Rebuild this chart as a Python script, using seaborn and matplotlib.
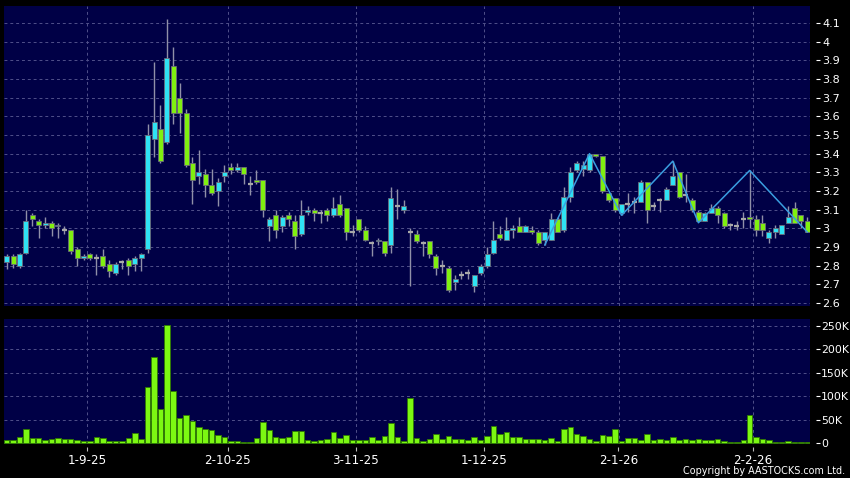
import matplotlib
matplotlib.use("Agg")
import matplotlib.pyplot as plt
import seaborn as sns
import numpy as np
import pandas as pd

# ---------------- data ----------------
opens = [2.82, 2.85, 2.80, 2.87, 3.07, 3.04, 3.02, 3.03, 3.01, 2.99,
         2.99, 2.89, 2.84, 2.86, 2.84, 2.85, 2.81, 2.76, 2.82, 2.83,
         2.81, 2.84, 2.89, 3.48, 3.53, 3.46, 3.87, 3.70, 3.62, 3.35,
         3.28, 3.29, 3.23, 3.20, 3.28, 3.33, 3.31, 3.33, 3.24, 3.26,
         3.26, 3.01, 3.07, 3.01, 3.07, 3.04, 2.97, 3.09, 3.10, 3.08,
         3.10, 3.07, 3.13, 3.11, 2.98, 3.05, 2.99, 2.92, 2.93, 2.93,
         2.91, 3.12, 3.10, 2.98, 2.97, 2.92, 2.93, 2.85, 2.80, 2.79,
         2.71, 2.75, 2.76, 2.69, 2.76, 2.80, 2.87, 2.97, 2.94, 2.99,
         3.01, 2.98, 2.99, 2.98, 2.94, 2.94, 3.05, 2.99, 3.17, 3.31,
         3.32, 3.31, 3.40, 3.39, 3.19, 3.16, 3.08, 3.13, 3.14, 3.14,
         3.25, 3.12, 3.15, 3.15, 3.23, 3.30, 3.18, 3.15, 3.09, 3.04,
         3.08, 3.11, 3.08, 3.02, 3.01, 3.05, 3.06, 3.05, 3.03, 2.95,
         2.98, 2.97, 3.03, 3.11, 3.07, 3.04]
highs = [2.86, 2.86, 2.87, 3.10, 3.08, 3.05, 3.06, 3.04, 3.03, 3.01,
         2.99, 2.90, 2.86, 2.87, 2.86, 2.89, 2.83, 2.82, 2.83, 2.84,
         2.85, 2.87, 3.56, 3.89, 3.66, 4.12, 3.97, 3.78, 3.64, 3.38,
         3.42, 3.32, 3.32, 3.27, 3.34, 3.35, 3.35, 3.33, 3.28, 3.31,
         3.26, 3.06, 3.10, 3.07, 3.09, 3.07, 3.15, 3.12, 3.11, 3.10,
         3.11, 3.17, 3.18, 3.11, 3.02, 3.05, 3.01, 2.93, 2.95, 2.93,
         3.22, 3.21, 3.15, 3.00, 2.99, 2.93, 2.93, 2.86, 2.83, 2.80,
         2.75, 2.77, 2.78, 2.75, 2.81, 2.90, 3.04, 3.01, 3.06, 3.02,
         3.06, 3.02, 3.01, 2.99, 2.98, 3.08, 3.06, 3.22, 3.33, 3.36,
         3.36, 3.40, 3.40, 3.39, 3.19, 3.16, 3.13, 3.19, 3.17, 3.26,
         3.25, 3.14, 3.16, 3.22, 3.36, 3.30, 3.29, 3.16, 3.10, 3.09,
         3.13, 3.12, 3.09, 3.03, 3.04, 3.09, 3.31, 3.07, 3.07, 2.99,
         3.02, 3.02, 3.12, 3.14, 3.07, 3.06]
lows = [2.78, 2.79, 2.79, 2.86, 3.01, 2.95, 3.00, 2.96, 2.95, 2.97,
        2.86, 2.80, 2.83, 2.83, 2.75, 2.79, 2.74, 2.75, 2.78, 2.75,
        2.77, 2.77, 2.87, 3.38, 3.35, 3.45, 3.56, 3.51, 3.33, 3.13,
        3.24, 3.17, 3.18, 3.12, 3.25, 3.29, 3.30, 3.24, 3.18, 3.24,
        3.06, 2.93, 2.95, 2.98, 3.01, 2.89, 2.96, 3.07, 3.04, 3.03,
        3.04, 3.06, 3.06, 2.94, 2.96, 2.98, 2.93, 2.85, 2.91, 2.85,
        2.87, 3.05, 3.08, 2.69, 2.92, 2.85, 2.84, 2.75, 2.76, 2.66,
        2.67, 2.73, 2.73, 2.66, 2.75, 2.79, 2.86, 2.94, 2.94, 2.95,
        2.98, 2.98, 2.97, 2.91, 2.91, 2.94, 2.98, 2.98, 3.14, 3.30,
        3.28, 3.30, 3.38, 3.19, 3.14, 3.09, 3.07, 3.09, 3.08, 3.14,
        3.03, 3.10, 3.09, 3.15, 3.23, 3.16, 3.14, 3.09, 3.04, 3.04,
        3.08, 3.03, 3.00, 2.99, 2.99, 3.00, 3.00, 2.96, 2.96, 2.92,
        2.95, 2.97, 3.03, 3.04, 3.00, 2.98]
closes = [2.85, 2.81, 2.86, 3.04, 3.05, 3.02, 3.03, 3.00, 3.02, 2.99,
          2.88, 2.84, 2.85, 2.84, 2.84, 2.80, 2.77, 2.81, 2.82, 2.80,
          2.84, 2.86, 3.50, 3.57, 3.36, 3.91, 3.62, 3.62, 3.34, 3.26,
          3.30, 3.23, 3.19, 3.25, 3.30, 3.31, 3.33, 3.29, 3.24, 3.25,
          3.10, 3.05, 2.99, 3.06, 3.05, 2.96, 3.07, 3.10, 3.08, 3.08,
          3.07, 3.11, 3.07, 2.98, 2.98, 2.99, 2.94, 2.92, 2.94, 2.87,
          3.16, 3.12, 3.12, 2.98, 2.93, 2.92, 2.86, 2.79, 2.80, 2.67,
          2.73, 2.75, 2.76, 2.75, 2.80, 2.86, 2.94, 2.95, 2.99, 3.00,
          2.98, 3.01, 2.98, 2.92, 2.98, 3.05, 2.98, 3.17, 3.30, 3.35,
          3.34, 3.40, 3.39, 3.20, 3.15, 3.10, 3.13, 3.13, 3.14, 3.25,
          3.10, 3.12, 3.15, 3.21, 3.28, 3.17, 3.18, 3.10, 3.04, 3.08,
          3.11, 3.07, 3.01, 3.02, 3.01, 3.05, 3.05, 2.99, 2.99, 2.98,
          3.00, 3.02, 3.06, 3.03, 3.04, 2.98]
volumes_k = [7, 7, 12, 31, 11, 10, 6, 8, 11, 8,
             9, 7, 5, 5, 13, 11, 5, 5, 5, 11,
             21, 9, 120, 184, 73, 252, 112, 54, 60, 48,
             34, 31, 27, 17, 14, 5, 5, 2, 2, 11,
             45, 27, 13, 11, 14, 25, 26, 6, 5, 6,
             8, 24, 10, 18, 7, 6, 7, 13, 7, 15,
             42, 13, 5, 97, 11, 5, 8, 19, 9, 16,
             8, 8, 6, 12, 6, 16, 37, 20, 24, 14,
             14, 9, 9, 8, 6, 11, 4, 31, 35, 19,
             16, 9, 4, 17, 16, 30, 4, 10, 10, 7,
             19, 6, 9, 6, 13, 6, 8, 6, 8, 6,
             6, 8, 4, 3, 3, 6, 59, 13, 8, 6,
             3, 3, 5, 2, 2, 2]

zigzag_idx = [84, 91, 96, 104, 108, 116, 125]
zigzag_val = [2.91, 3.40, 3.07, 3.36, 3.03, 3.31, 2.98]

date_labels = ["1-9-25", "2-10-25", "3-11-25", "1-12-25", "2-1-26", "2-2-26"]
date_pos = [12, 34, 54, 74, 95, 116]

price_ticks = [2.6, 2.7, 2.8, 2.9, 3.0, 3.1, 3.2, 3.3, 3.4, 3.5, 3.6, 3.7, 3.8, 3.9, 4.0, 4.1]
price_tick_labels = ["2.6", "2.7", "2.8", "2.9", "3", "3.1", "3.2", "3.3", "3.4",
                     "3.5", "3.6", "3.7", "3.8", "3.9", "4", "4.1"]
vol_ticks = [0, 50000, 100000, 150000, 200000, 250000]
vol_tick_labels = ["0", "50K", "100K", "150K", "200K", "250K"]

# ---------------- style ----------------
sns.set_style("dark")
plt.rcParams["font.family"] = ["DejaVu Sans"]

BG = "#000046"
UP = "#2fe2f4"
DOWN = "#80f010"
GRID = "#50508a"
WICK = "#9090a8"
EDGE = "#6a6a7a"

df = pd.DataFrame({"open": opens, "high": highs, "low": lows,
                   "close": closes, "volume": np.array(volumes_k) * 1000})
df["i"] = np.arange(len(df))

fig = plt.figure(figsize=(8.5, 4.78), dpi=100, facecolor="black")
ax = fig.add_axes([4 / 850, 1 - 306 / 478, 806 / 850, 300 / 478])
axv = fig.add_axes([4 / 850, 1 - 444 / 478, 806 / 850, 125 / 478], sharex=ax)

for a in (ax, axv):
    a.set_facecolor(BG)
    for s in a.spines.values():
        s.set_visible(False)
    a.grid(False)

# grid lines
grid_x = [p + 0.55 for p in date_pos]
for a in (ax, axv):
    for gx in grid_x:
        a.axvline(gx, color=GRID, lw=0.7, ls=(0, (3, 3)), zorder=0.5)
for t in price_ticks:
    ax.axhline(t, color=GRID, lw=0.7, ls=(0, (3, 3)), zorder=0.5)
for t in vol_ticks[1:]:
    axv.axhline(t, color=GRID, lw=0.7, ls=(0, (3, 3)), zorder=0.5)

# wicks
ax.vlines(df["i"], df["low"], df["high"], color=WICK, lw=1.0, zorder=2)

# bodies
bw = 0.78
nd = df[df["open"] != df["close"]]
up = nd[nd["close"] > nd["open"]]
dn = nd[nd["close"] < nd["open"]]
ax.bar(up["i"], up["close"] - up["open"], bottom=up["open"], width=bw,
       color=UP, edgecolor=EDGE, linewidth=0.6, zorder=3)
ax.bar(dn["i"], dn["open"] - dn["close"], bottom=dn["close"], width=bw,
       color=DOWN, edgecolor=EDGE, linewidth=0.6, zorder=3)
dj = df[df["open"] == df["close"]]
ax.hlines(dj["open"], dj["i"] - bw / 2, dj["i"] + bw / 2, color="#a8a8a8", lw=1.6, zorder=3)

# zigzag
sns.lineplot(x=zigzag_idx, y=zigzag_val, ax=ax, color="#3a9ee0", lw=1.1,
             sort=False, zorder=4, legend=False)

ax.set_ylim(2.584, 4.191)

# volume
sns.barplot(data=df, x="i", y="volume", ax=axv, native_scale=True,
            color="#7cf812", edgecolor="#2f7a00", linewidth=0.6, width=0.86,
            saturation=1, zorder=2)
axv.set_ylim(-2000, 265000)
ax.set_xlim(-0.42, len(df) - 1 + 0.42)

# axes ticks
ax.yaxis.tick_right()
ax.spines["right"].set_position(("outward", 4))
ax.set_yticks(price_ticks)
ax.set_yticklabels(price_tick_labels)
ax.tick_params(axis="y", colors="white", labelcolor="white", length=3, width=0.8,
               pad=1.8, labelsize=8, right=True, left=False)
ax.tick_params(axis="x", bottom=False, labelbottom=False)

axv.yaxis.tick_right()
axv.spines["right"].set_position(("outward", 4))
axv.set_yticks(vol_ticks)
axv.set_yticklabels(vol_tick_labels)
axv.tick_params(axis="y", colors="white", labelcolor="white", length=3, width=0.8,
                pad=1.0, labelsize=7.8, right=True, left=False)
axv.spines["bottom"].set_position(("outward", 2))
axv.set_xticks([p + 0.5 for p in date_pos])
axv.set_xticklabels(date_labels)
axv.tick_params(axis="x", colors="#bbbbbb", labelcolor="white", length=3, width=0.8,
                pad=2, labelsize=8.6, bottom=True)
for a in (ax, axv):
    a.set_xlabel("")
    a.set_ylabel("")

fig.text(845 / 850, 1 - 471 / 478, "Copyright by AASTOCKS.com Ltd.", color="white",
         fontsize=6.9, ha="right", va="center")

fig.savefig("out.png", dpi=100, facecolor="black")
